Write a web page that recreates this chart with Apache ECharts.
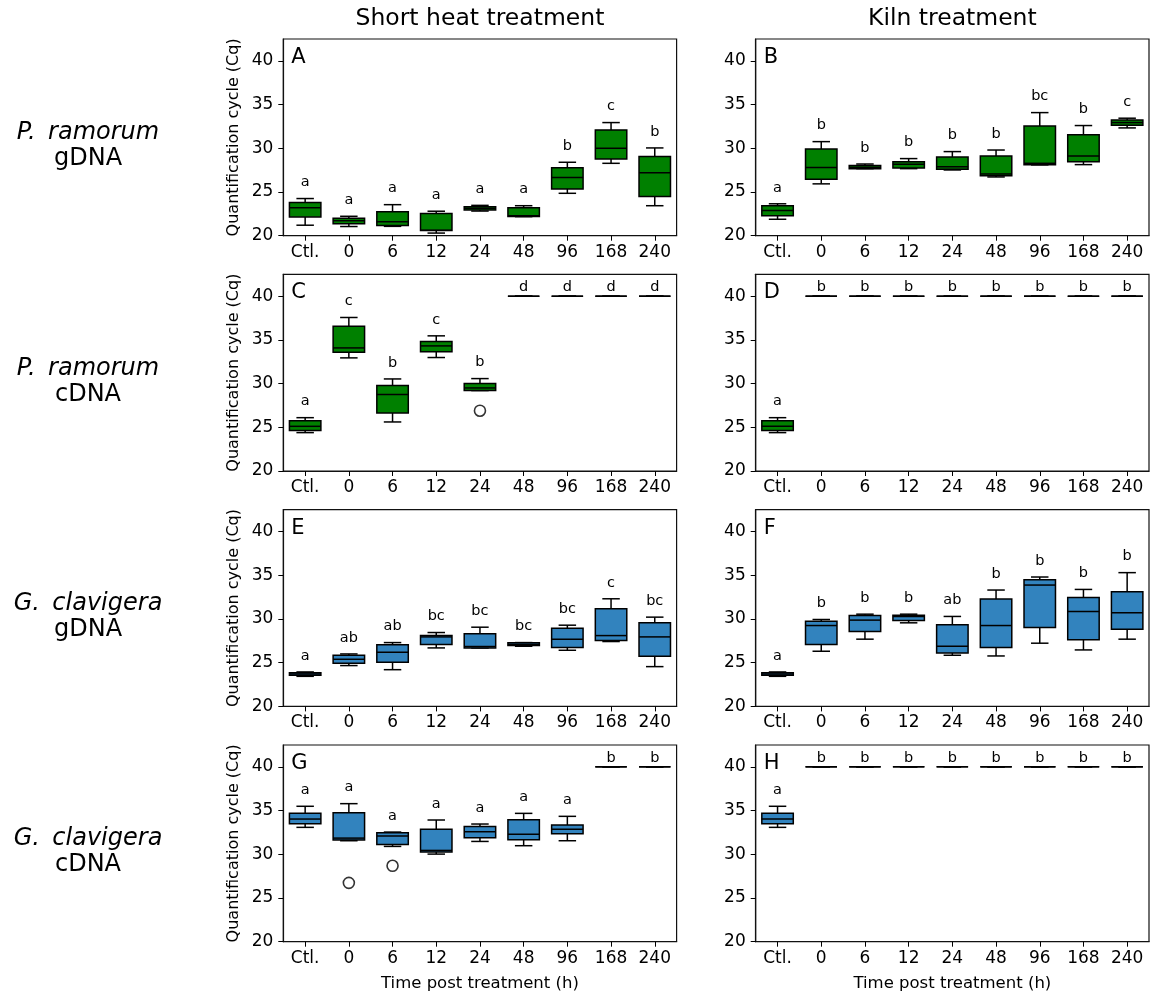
<!DOCTYPE html>
<html><head><meta charset="utf-8">
<script src="https://cdn.jsdelivr.net/npm/echarts@6/dist/echarts.min.js"></script>
<style>html,body{margin:0;padding:0;background:#fff}#c{width:1157px;height:993px}</style>
</head><body><div id="c"></div>
<script>
// ---------- data ----------
const categories = ['Ctl.', '0', '6', '12', '24', '48', '96', '168', '240'];
const yTicks = [20, 25, 30, 35, 40];
const ND = [40, 40, 40, 40, 40]; // non-detected samples assigned Cq = 40

// each box: [lower whisker, Q1, median, Q3, upper whisker]
const boxA = [
  [21.2, 22.15, 23.2, 23.8, 24.25], [21.05, 21.38, 21.72, 22.0, 22.22], [21.07, 21.18, 21.6, 22.75, 23.55],
  [20.3, 20.6, 20.62, 22.55, 22.8], [22.82, 22.94, 23.13, 23.32, 23.47], [22.18, 22.2, 22.29, 23.2, 23.43],
  [24.85, 25.34, 26.65, 27.78, 28.4], [28.28, 28.78, 30.0, 32.1, 32.94], [23.43, 24.47, 27.2, 29.05, 30.04]
];
const lettersA = ['a', 'a', 'a', 'a', 'a', 'a', 'b', 'c', 'b'];

const boxB = [
  [21.88, 22.27, 22.88, 23.42, 23.65], [25.93, 26.47, 27.8, 29.92, 30.76], [27.67, 27.67, 27.82, 28.02, 28.2],
  [27.67, 27.75, 28.17, 28.47, 28.82], [27.52, 27.6, 27.9, 29.0, 29.62], [26.72, 26.87, 27.06, 29.12, 29.8],
  [28.1, 28.13, 28.28, 32.56, 34.08], [28.13, 28.47, 29.12, 31.56, 32.6], [32.33, 32.63, 32.94, 33.24, 33.44]
];
const lettersB = ['a', 'b', 'b', 'b', 'b', 'b', 'bc', 'b', 'c'];

const boxC = [
  [24.39, 24.62, 25.11, 25.76, 26.1], [32.94, 33.59, 34.08, 36.56, 37.56], [25.61, 26.64, 28.74, 29.77, 30.53],
  [32.98, 33.63, 34.31, 34.81, 35.46], [29.2, 29.2, 29.5, 30.0, 30.57], ND, ND, ND, ND
];
const lettersC = ['a', 'c', 'b', 'c', 'b', 'd', 'd', 'd', 'd'];
const outliersC = [[4, 26.9]];

const boxD = [
  [24.39, 24.62, 25.11, 25.76, 26.1], ND, ND, ND, ND, ND, ND, ND, ND
];
const lettersD = ['a', 'b', 'b', 'b', 'b', 'b', 'b', 'b', 'b'];

const boxE = [
  [23.44, 23.56, 23.71, 23.86, 23.94], [24.67, 24.93, 25.39, 25.85, 26.0], [24.2, 25.05, 26.2, 27.04, 27.3],
  [26.69, 27.07, 27.95, 28.1, 28.45], [26.69, 26.69, 26.85, 28.3, 29.06], [26.88, 26.96, 27.11, 27.27, 27.3],
  [26.42, 26.73, 27.69, 28.95, 29.29], [27.42, 27.53, 28.1, 31.17, 32.31], [24.55, 25.74, 27.95, 29.56, 30.21]
];
const lettersE = ['a', 'ab', 'ab', 'bc', 'bc', 'bc', 'bc', 'c', 'bc'];

const boxF = [
  [23.44, 23.56, 23.71, 23.86, 23.94], [26.31, 27.07, 29.25, 29.75, 29.94], [27.69, 28.57, 29.87, 30.4, 30.55],
  [29.56, 29.83, 30.29, 30.44, 30.55], [25.85, 26.12, 26.88, 29.33, 30.29], [25.77, 26.73, 29.25, 32.28, 33.31],
  [27.23, 29.02, 33.88, 34.49, 34.8], [26.46, 27.61, 30.86, 32.47, 33.38], [27.69, 28.83, 30.71, 33.12, 35.3]
];
const lettersF = ['a', 'b', 'b', 'b', 'ab', 'b', 'b', 'b', 'b'];

const boxG = [
  [33.08, 33.5, 34.03, 34.68, 35.49], [31.55, 31.63, 31.85, 34.76, 35.79], [30.9, 31.13, 32.08, 32.47, 32.54],
  [30.02, 30.25, 30.44, 32.85, 33.92], [31.47, 31.89, 32.58, 33.19, 33.46], [30.98, 31.66, 32.28, 33.96, 34.68],
  [31.55, 32.35, 32.85, 33.35, 34.34], ND, ND
];
const lettersG = ['a', 'a', 'a', 'a', 'a', 'a', 'a', 'b', 'b'];
const outliersG = [[1, 26.73], [2, 28.68]];

const boxH = [
  [33.08, 33.5, 34.03, 34.68, 35.49], ND, ND, ND, ND, ND, ND, ND, ND
];
const lettersH = ['a', 'b', 'b', 'b', 'b', 'b', 'b', 'b', 'b'];

const colTitles = ['Short heat treatment', 'Kiln treatment'];
const rowSpecies = ['P.\u2009 ramorum', 'P.\u2009 ramorum', 'G.\u2009 clavigera', 'G.\u2009 clavigera'];
const rowTypes = ['gDNA', 'cDNA', 'gDNA', 'cDNA'];
const yName = 'Quantification cycle (Cq)';
const xName = 'Time post treatment (h)';

// ---------- layout / style ----------
const GREEN = '#008000', BLUE = '#3283be';
const FONT = '"DejaVu Sans", Verdana, sans-serif';
const colLeft = [283.3, 755.7], plotW = 393.3;
const rowTop = [39, 274.3, 509.7, 745], plotH = 196.7;

const panels = [
  {id: 'A', box: boxA, letters: lettersA, out: [], color: GREEN, r: 0, c: 0},
  {id: 'B', box: boxB, letters: lettersB, out: [], color: GREEN, r: 0, c: 1},
  {id: 'C', box: boxC, letters: lettersC, out: outliersC, color: GREEN, r: 1, c: 0},
  {id: 'D', box: boxD, letters: lettersD, out: [], color: GREEN, r: 1, c: 1},
  {id: 'E', box: boxE, letters: lettersE, out: [], color: BLUE, r: 2, c: 0},
  {id: 'F', box: boxF, letters: lettersF, out: [], color: BLUE, r: 2, c: 1},
  {id: 'G', box: boxG, letters: lettersG, out: outliersG, color: BLUE, r: 3, c: 0},
  {id: 'H', box: boxH, letters: lettersH, out: [], color: BLUE, r: 3, c: 1}
];

function makeRender(letters, fill) {
  return function (params, api) {
    const i = api.value(0);
    const v = [1, 2, 3, 4, 5].map(d => api.value(d));
    const p = v.map(val => api.coord([i, val]));
    const x = p[0][0];
    const band = api.size([1, 0])[0];
    const bw = band * 0.72, cw = band * 0.4;
    const st = {stroke: '#000', lineWidth: 1.5, fill: null};
    const kids = [
      {type: 'line', shape: {x1: x, y1: p[0][1], x2: x, y2: p[1][1]}, style: st},
      {type: 'line', shape: {x1: x, y1: p[3][1], x2: x, y2: p[4][1]}, style: st},
      {type: 'line', shape: {x1: x - cw / 2, y1: p[0][1], x2: x + cw / 2, y2: p[0][1]}, style: st},
      {type: 'line', shape: {x1: x - cw / 2, y1: p[4][1], x2: x + cw / 2, y2: p[4][1]}, style: st},
      {type: 'rect', shape: {x: x - bw / 2, y: p[3][1], width: bw, height: p[1][1] - p[3][1]},
        style: {fill: fill, stroke: '#000', lineWidth: 1.5}},
      {type: 'line', shape: {x1: x - bw / 2, y1: p[2][1], x2: x + bw / 2, y2: p[2][1]}, style: st}
    ];
    const flat = (v[4] - v[0]) < 1e-6;
    kids.push({type: 'text', x: x, y: p[4][1] - (flat ? 9 : 16),
      style: {text: letters[params.dataIndex], fill: '#000', font: '14.5px ' + FONT, align: 'center', verticalAlign: 'middle'}});
    return {type: 'group', children: kids};
  };
}

const grid = [], xAxis = [], yAxis = [], series = [], graphic = [];
panels.forEach((pn, k) => {
  const left = colLeft[pn.c], top = rowTop[pn.r];
  grid.push({left: left, top: top, width: plotW, height: plotH, show: true, borderColor: '#111', borderWidth: 1.2,
    backgroundColor: 'transparent', containLabel: false, outerBoundsMode: 'none'});
  xAxis.push({
    type: 'category', gridIndex: k, data: categories, boundaryGap: true,
    axisLine: {show: true, lineStyle: {color: '#111', width: 1.2}},
    axisTick: {show: true, alignWithLabel: true, length: 5, lineStyle: {color: '#000', width: 1}},
    axisLabel: {color: '#000', fontSize: 17, fontFamily: FONT, margin: 8, interval: 0},
    splitLine: {show: false},
    name: pn.r === 3 ? xName : '', nameLocation: 'middle', nameGap: 34,
    nameTextStyle: {color: '#000', fontSize: 16.5, fontFamily: FONT}
  });
  yAxis.push({
    type: 'value', gridIndex: k, min: 20, max: 42.5, interval: 5,
    axisLine: {show: true, lineStyle: {color: '#111', width: 1.2}},
    axisTick: {show: true, length: 5, customValues: yTicks, lineStyle: {color: '#000', width: 1}},
    axisLabel: {color: '#000', fontSize: 17, fontFamily: FONT, margin: 10, customValues: yTicks},
    splitLine: {show: false},
    name: pn.c === 0 ? yName : '', nameLocation: 'middle', nameRotate: 90, nameGap: 41,
    nameTextStyle: {color: '#000', fontSize: 16, fontFamily: FONT}
  });
  series.push({
    type: 'custom', xAxisIndex: k, yAxisIndex: k, clip: false,
    data: pn.box.map((b, i) => [i].concat(b)),
    encode: {x: 0, y: [1, 2, 3, 4, 5]},
    renderItem: makeRender(pn.letters, pn.color), animation: false, silent: true
  });
  if (pn.out.length) {
    series.push({
      type: 'scatter', xAxisIndex: k, yAxisIndex: k, data: pn.out, symbol: 'circle', symbolSize: 11,
      itemStyle: {color: 'rgba(255,255,255,0)', borderColor: '#000', borderWidth: 1.6}, animation: false, silent: true
    });
  }
  graphic.push({type: 'text', left: left + 8, top: top + 8,
    style: {text: pn.id, font: '21px ' + FONT, fill: '#000'}});
});

colTitles.forEach((t, c) => {
  graphic.push({type: 'text', x: colLeft[c] + plotW / 2, y: 19,
    style: {text: t, font: '23.5px ' + FONT, fill: '#000', align: 'center', verticalAlign: 'middle'}});
});
rowSpecies.forEach((s, r) => {
  const cy = rowTop[r] + 94;
  graphic.push({type: 'text', x: 88, y: cy,
    style: {text: s, font: 'italic 24px ' + FONT, fill: '#000', align: 'center', verticalAlign: 'middle'}});
  graphic.push({type: 'text', x: 88, y: cy + 26,
    style: {text: rowTypes[r], font: '24px ' + FONT, fill: '#000', align: 'center', verticalAlign: 'middle'}});
});

const chart = echarts.init(document.getElementById('c'), null, {renderer: 'canvas'});
chart.setOption({
  animation: false,
  backgroundColor: '#fff',
  textStyle: {fontFamily: FONT},
  grid: grid, xAxis: xAxis, yAxis: yAxis, series: series, graphic: graphic
});
</script>
</body></html>
